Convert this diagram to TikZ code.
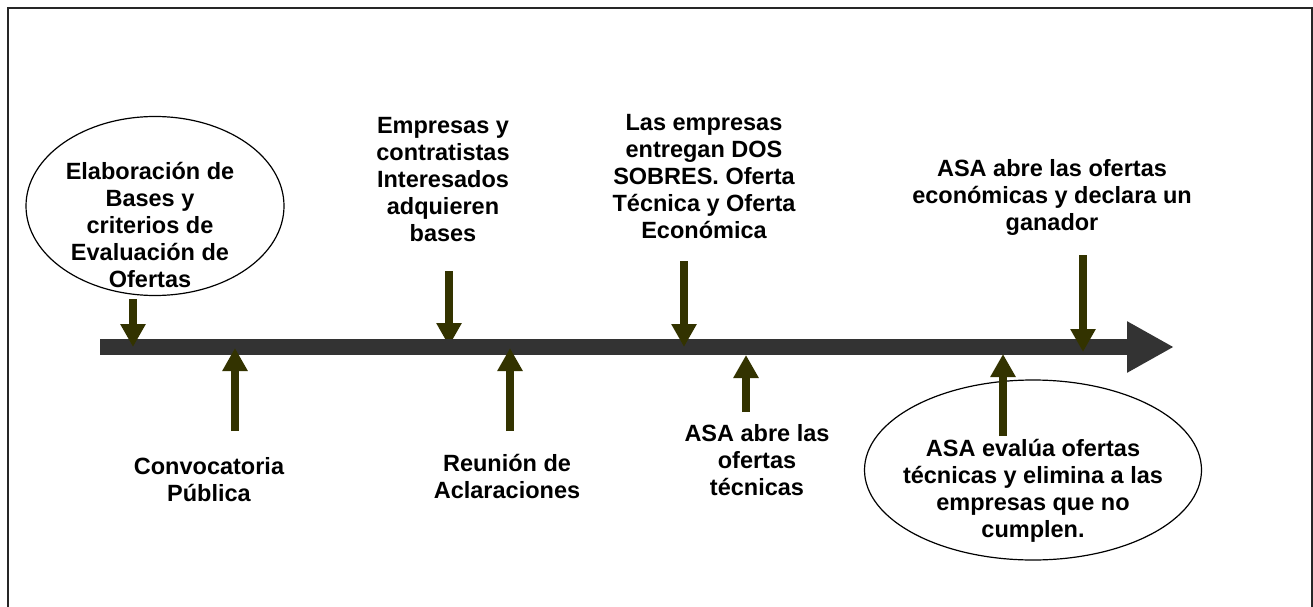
\documentclass[tikz,border=0pt]{standalone}
\usepackage{fontspec}
\setmainfont{Liberation Sans}
\usetikzlibrary{arrows.meta,shapes.geometric}
\definecolor{barcol}{HTML}{333333}
\definecolor{arrcol}{HTML}{333300}
\tikzset{
  lbl/.style={align=center,inner sep=0pt,font=\fontsize{23.5}{27}\selectfont\bfseries},
  oval/.style={ellipse,draw=black,line width=1.2pt,fill=white,inner sep=0pt},
  evarrow/.style={draw=arrcol,line width=8pt,-{Triangle[width=24pt,length=23pt,fill=arrcol]}},
  timeline/.style={draw=barcol,line width=16pt,-{Triangle[width=48pt,length=47pt,fill=barcol]}}
}
\begin{document}
\begin{tikzpicture}[x=1pt,y=-1pt]
\useasboundingbox (0,0) rectangle (1313,607);
\draw[line width=2pt,black!85] (8,608) -- (8,8) -- (1312,8) -- (1312,608);

% ellipses
\node[oval,minimum width=258pt,minimum height=179pt] (e1) at (155,206) {};
\node[oval,minimum width=337pt,minimum height=180pt] (e2) at (1033,470) {};

% arrow endpoints
\coordinate (a3s) at (449,271); \coordinate (a3e) at (449,346);
\draw[evarrow] (a3s) -- (a3e);

% timeline
\coordinate (ts) at (100,347); \coordinate (te) at (1174,347);
\draw[timeline] (ts) -- (te);

\coordinate (a1s) at (133,299); \coordinate (a1e) at (133,347);
\coordinate (a2s) at (235,431); \coordinate (a2e) at (235,348);
\coordinate (a4s) at (510,431); \coordinate (a4e) at (510,348);
\coordinate (a5s) at (684,261); \coordinate (a5e) at (684,347);
\coordinate (a6s) at (746,412); \coordinate (a6e) at (746,355);
\coordinate (a7s) at (1003,436); \coordinate (a7e) at (1003,354);
\coordinate (a8s) at (1083,255); \coordinate (a8e) at (1083,352);
\foreach \i in {1,2,4,5,6,7,8} {\draw[evarrow] (a\i s) -- (a\i e);}

% labels
\node[lbl] (t1) at (150,225) {Elaboración de\\Bases y\\criterios de\\Evaluación de\\Ofertas};
\node[lbl] (t3) at (443,180) {Empresas y\\contratistas\\Interesados\\adquieren\\bases};
\node[lbl] (t5) at (704,177) {Las empresas\\entregan DOS\\SOBRES. Oferta\\Técnica y Oferta\\Económica};
\node[lbl] (t8) at (1052,197) {ASA abre las ofertas\\económicas y declara un\\ganador};
\node[lbl] (t2) at (209,480) {Convocatoria\\Pública};
\node[lbl] (t4) at (507,476) {Reunión de\\Aclaraciones};
\node[lbl] (t6) at (757,460) {ASA abre las\\ofertas\\técnicas};
\node[lbl] (t7) at (1033,491) {ASA evalúa ofertas\\técnicas y elimina a las\\empresas que no\\cumplen.};
\end{tikzpicture}
\end{document}
